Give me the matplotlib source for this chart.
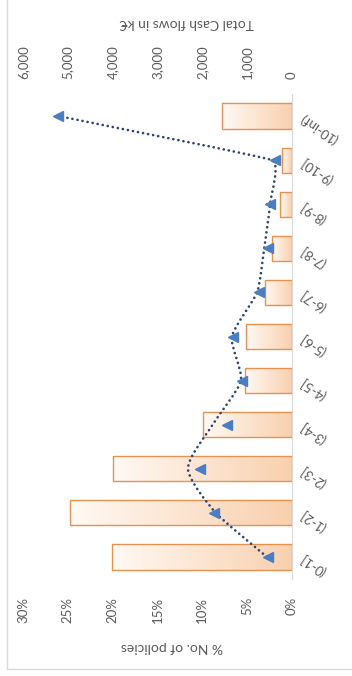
import numpy as np
import matplotlib
matplotlib.use('Agg')
import matplotlib.pyplot as plt
from matplotlib.colors import LinearSegmentedColormap
from matplotlib.patches import Rectangle, PathPatch
from matplotlib.path import Path
from matplotlib.ticker import FuncFormatter, MultipleLocator

plt.rcParams['font.family'] = ['Lato', 'DejaVu Sans']

przedzialy = ['(0-1]', '(1-2]', '(2-3]', '(3-4]', '(4-5]', '(5-6]',
              '(6-7]', '(7-8]', '(8-9]', '(9-10]', '(10-inf)']
procent_polis = [20.1, 24.8, 20.0, 9.9, 5.2, 5.1, 3.0, 2.2, 1.3, 1.1, 7.8]
# punkty (trojkaty) i linia kropkowana
przeplywy = [540, 1750, 2050, 1440, 1120, 1310, 740, 540, 490, 380, 5210]
przeplywy_linia = [560, 1700, 2320, 1770, 1140, 1340, 780, 620, 490, 450, 5210]

szary = '#595959'
pomaranczowy = '#E3924F'
granat = '#2B4470'
niebieski = '#4A7DC2'

W, H = 352, 676
fig = plt.figure(figsize=(W / 100, H / 100), dpi=100)

# ramka wykresu
fig.add_artist(Rectangle((7 / W, 1 - 669 / H), 1, 1, transform=fig.transFigure,
                         fill=False, edgecolor='#D9D9D9', linewidth=1, clip_on=False))

ax = fig.add_axes([23 / W, 1 - 579 / H, (292 - 23) / W, (579 - 94) / H])
y = np.arange(len(przedzialy))
grubosc = 0.57

gradient = LinearSegmentedColormap.from_list('brzoskwinia', ['#F9D0AE', '#FFF9F4'])
rampa = np.linspace(0, 1, 256).reshape(1, -1)
slupki = ax.barh(y, procent_polis, height=grubosc, facecolor='none',
                 edgecolor=pomaranczowy, linewidth=1.0, zorder=3)
for s, yi, v in zip(slupki, y, procent_polis):
    im = ax.imshow(rampa, cmap=gradient, aspect='auto', zorder=2,
                   extent=(0, v, yi - grubosc / 2, yi + grubosc / 2))
    im.set_clip_path(s)

ax.set_xlim(30, 0)
ax.set_ylim(-0.5, len(przedzialy) - 0.5)
ax.xaxis.set_major_locator(MultipleLocator(5))
ax.xaxis.set_major_formatter(FuncFormatter(lambda v, p: f'{v:.0f}%'))
ax.tick_params(axis='x', length=0, pad=13, labelsize=9.5, labelcolor=szary, labelrotation=90)

ax.yaxis.tick_right()
ax.set_yticks(y)
ax.set_yticklabels(przedzialy)
ax.tick_params(axis='y', length=0, pad=7, labelsize=9.5, labelcolor=szary)
for lab in ax.get_yticklabels():
    lab.set_rotation(146)
    lab.set_ha('right')
    lab.set_va('center')
    lab.set_rotation_mode('anchor')

for k in ['left', 'top', 'bottom']:
    ax.spines[k].set_visible(False)
ax.spines['right'].set_color('#D9D9D9')

# druga os: przeplywy pieniezne
ax2 = ax.twiny()
ax2.set_xlim(6000, 0)
ax2.xaxis.set_major_locator(MultipleLocator(1000))
ax2.xaxis.set_major_formatter(FuncFormatter(lambda v, p: f'{v:,.0f}'))
ax2.tick_params(axis='x', length=0, pad=11, labelsize=9.5, labelcolor=szary, labelrotation=90)
for k in ax2.spines:
    ax2.spines[k].set_visible(False)
ax2.set_ylim(-0.5, len(przedzialy) - 0.5)

# wygladzona linia: styczne w pikselach, ramie ograniczone krotszym odcinkiem
fig.canvas.draw()
P = ax2.transData.transform(np.column_stack([przeplywy_linia, y]).astype(float))
n = len(P)
odc = np.hypot(*(P[1:] - P[:-1]).T)
styczne, ramiona = [], []
for i in range(n):
    d = P[min(i + 1, n - 1)] - P[max(i - 1, 0)]
    styczne.append(d / np.hypot(*d))
    sasiednie = [odc[j] for j in (i - 1, i) if 0 <= j < n - 1]
    ramiona.append(0.22 * min(sasiednie))
wierzcholki = [P[0]]
kody = [Path.MOVETO]
for i in range(n - 1):
    wierzcholki += [P[i] + styczne[i] * ramiona[i],
                    P[i + 1] - styczne[i + 1] * ramiona[i + 1],
                    P[i + 1]]
    kody += [Path.CURVE4] * 3
wierzcholki = ax2.transData.inverted().transform(np.array(wierzcholki))
linia = PathPatch(Path(wierzcholki, kody), fill=False, edgecolor=granat,
                  linewidth=1.9, linestyle=(0, (0.05, 1.9)), capstyle='round', zorder=4)
ax2.add_patch(linia)
ax2.plot(przeplywy, y, linestyle='none', marker='<', markersize=7,
         color=niebieski, zorder=5)

fig.text(172 / W, 1 - 647 / H, '% No. of policies', rotation=180, ha='center',
         va='center', fontsize=10, color=szary)
fig.text(187 / W, 1 - 23 / H, 'Total Cash flows in k€', rotation=180, ha='center',
         va='center', fontsize=10, color=szary)

fig.savefig('out.png', dpi=100)
plt.close(fig)
